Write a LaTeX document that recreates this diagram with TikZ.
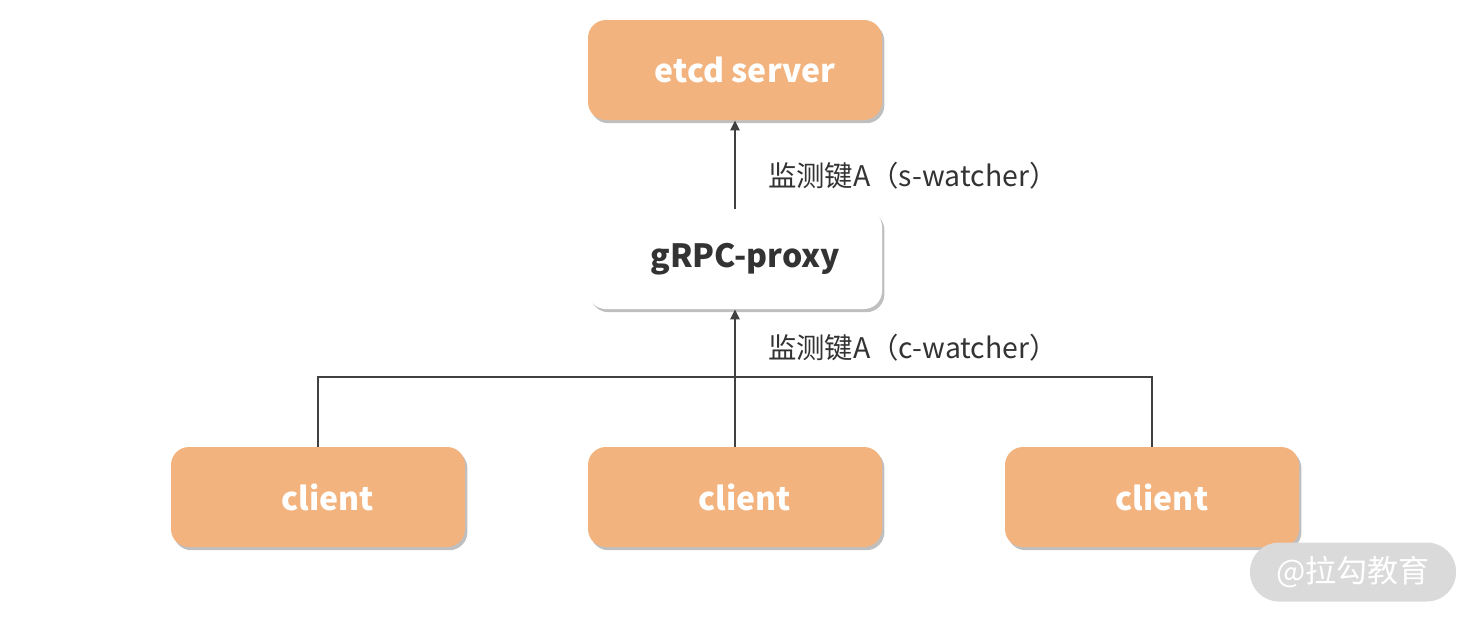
\documentclass[tikz,border=0pt]{standalone}
\usepackage{fontspec}
\setmainfont{Noto Sans CJK SC}
\usetikzlibrary{arrows.meta,shadows}
\definecolor{BoxClr}{HTML}{F2B37E}
\definecolor{LineClr}{HTML}{404040}
\definecolor{TextClr}{HTML}{333333}
\definecolor{MarkClr}{HTML}{DADADA}

\begin{document}
\begin{tikzpicture}[x=0.5pt,y=-0.5pt,
  box/.style={rounded corners=9pt,minimum width=147pt,minimum height=50pt,inner sep=0pt,
    font=\bfseries\fontsize{16}{18}\selectfont,
    drop shadow={shadow xshift=1.2pt,shadow yshift=-1.6pt,fill=black,opacity=.25}},
  orangebox/.style={box,fill=BoxClr,text=white},
  whitebox/.style={box,fill=white,text=TextClr},
  wire/.style={draw=LineClr,line width=1.1pt},
  arrow/.style={wire,-{Triangle[width=4.5pt,length=5pt]}},
  watchlabel/.style={anchor=west,text=TextClr,font=\fontsize{14.2}{16}\selectfont}]
\useasboundingbox (0,0) rectangle (1476,621);

\node[orangebox] (server) at (735,70) {\hspace{10pt}etcd server};
\node[whitebox] (proxy) at (735,259) {\hspace{10pt}gRPC-proxy};

\node[orangebox] (clientA) at (318,497) {\hspace{10pt}client};
\node[orangebox] (clientB) at (735,497) {\hspace{10pt}client};
\node[orangebox] (clientC) at (1152,497) {\hspace{10pt}client};

\coordinate (busA) at (318,377);
\coordinate (busC) at (1152,377);

\draw[arrow] (proxy) -- (server);
\draw[arrow] (clientB) -- (proxy);
\draw[wire] (clientA.north) -- (busA) -- (busC) -- (clientC.north);

\node[watchlabel] (sWatch) at (761,176) {监测键A（s-watcher）};
\node[watchlabel] (cWatch) at (761,348) {监测键A（c-watcher）};

\node[fill=MarkClr,text=white,rounded corners=14.5pt,minimum width=103pt,minimum height=29.5pt,
  font=\fontsize{15.5}{17}\selectfont] (mark) at (1353,572) {@拉勾教育};
\end{tikzpicture}
\end{document}
